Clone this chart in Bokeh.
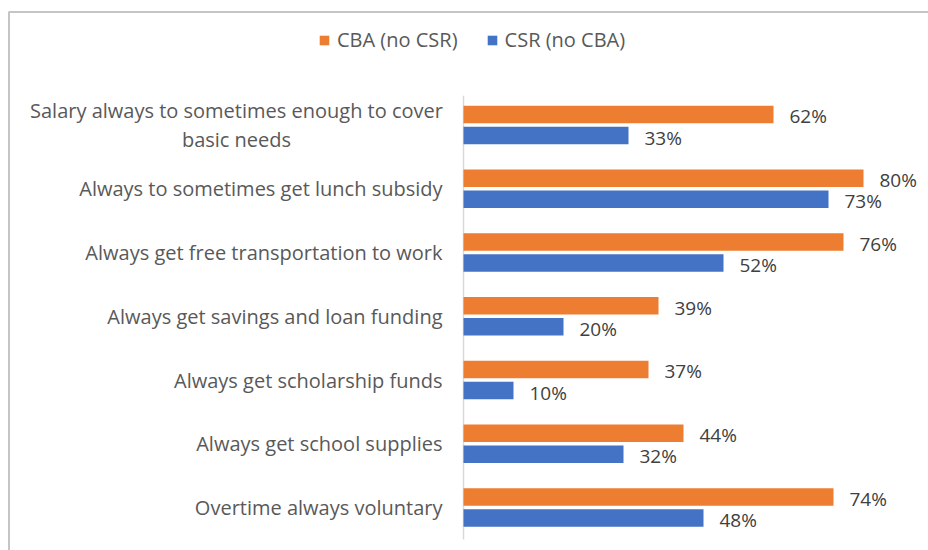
from bokeh.plotting import figure
from bokeh.models import ColumnDataSource, Range1d, Legend, LegendItem, BoxAnnotation
from bokeh.core.properties import value
from bokeh.embed import file_html
from bokeh.resources import INLINE

categories = [
    "Salary always to sometimes enough to cover\nbasic needs",
    "Always to sometimes get lunch subsidy",
    "Always get free transportation to work",
    "Always get savings and loan funding",
    "Always get scholarship funds",
    "Always get school supplies",
    "Overtime always voluntary",
]
cba = [62, 80, 76, 39, 37, 44, 74]
csr = [33, 73, 52, 20, 10, 32, 48]
series_names = ["CBA (no CSR)", "CSR (no CBA)"]

ORANGE = "#ED7D31"
BLUE = "#4472C4"
FONT = "Open Sans"

# ---- layout (pixels) ----
W, H = 928, 550
X_ZERO = 463          # pixel column of the 0% baseline
PX_PER_PCT = 5.0      # horizontal scale
ROW = 63.75           # pixel height of one category row
FIRST_ROW_C = 124.5   # pixel row of the first category centre
LABEL_RIGHT = 442     # right edge of category labels
WRAP_CENTER = 236     # centre of wrapped (two-line) labels

x_start = -X_ZERO / PX_PER_PCT
x_end = (W - X_ZERO) / PX_PER_PCT
y_top = -FIRST_ROW_C / ROW
y_bottom = y_top + H / ROW

def px_to_x(px):
    return (px - X_ZERO) / PX_PER_PCT

def py_to_y(py):
    return y_top + py / ROW

idx = list(range(len(categories)))
off = 0.165
h = 0.275

wrapped = ["\n" in c for c in categories]
src = ColumnDataSource(dict(
    cat=categories,
    y_cba=[i - off for i in idx],
    y_csr=[i + off for i in idx],
    y_cat=idx,
    x_cat=[px_to_x(WRAP_CENTER) if w else px_to_x(LABEL_RIGHT) for w in wrapped],
    a_cat=["center" if w else "right" for w in wrapped],
    cba=cba,
    csr=csr,
    cba_lbl=[f"{v}%" for v in cba],
    csr_lbl=[f"{v}%" for v in csr],
))

p = figure(
    width=W, height=H,
    x_range=Range1d(x_start, x_end),
    y_range=Range1d(y_bottom, y_top),
    output_backend="svg", toolbar_location=None,
    min_border=0,
)
p.outline_line_color = None
p.background_fill_color = "white"
p.border_fill_color = "white"
p.xgrid.visible = False
p.ygrid.visible = False
p.xaxis.visible = False
p.yaxis.visible = False

# category axis line
p.segment(x0=0, x1=0, y0=-0.5 + 0.04, y1=len(categories) - 0.5,
          line_color="#d9d9d9", line_width=1.5)

# category labels
p.text(x="x_cat", y="y_cat", text="cat", source=src,
       text_align="a_cat", text_baseline="middle", text_line_height=1.05,
       text_font=value(FONT), text_font_size="20px", text_color="#595959")

r1 = p.hbar(y="y_cba", right="cba", left=0, height=h,
            source=src, fill_color=ORANGE, line_color=None)
r2 = p.hbar(y="y_csr", right="csr", left=0, height=h,
            source=src, fill_color=BLUE, line_color=None)

for col, ycol, lbl in (("cba", "y_cba", "cba_lbl"), ("csr", "y_csr", "csr_lbl")):
    p.text(x=col, y=ycol, text=lbl, source=src,
           x_offset=16, y_offset=2, text_baseline="middle", text_align="left",
           text_font=value(FONT), text_font_size="19px", text_color="#404040")

legend = Legend(
    items=[LegendItem(label=series_names[0], renderers=[r1]),
           LegendItem(label=series_names[1], renderers=[r2])],
    orientation="horizontal",
    location=(318, H - 53),
    border_line_color=None,
    background_fill_alpha=0,
    padding=0, margin=0,
    glyph_width=12, glyph_height=12,
    label_standoff=7, spacing=28,
    label_text_font=FONT, label_text_font_size="20px", label_text_color="#595959",
)
p.add_layout(legend, "center")

# chart-area border: top and left edges only
frame_box = BoxAnnotation(
    left=px_to_x(8.5), right=x_end + 50, top=py_to_y(11.5), bottom=y_bottom + 5,
    fill_alpha=0, line_color="#404040", line_width=2,
)
p.add_layout(frame_box)

open("out.html", "w").write(file_html(p, INLINE))
